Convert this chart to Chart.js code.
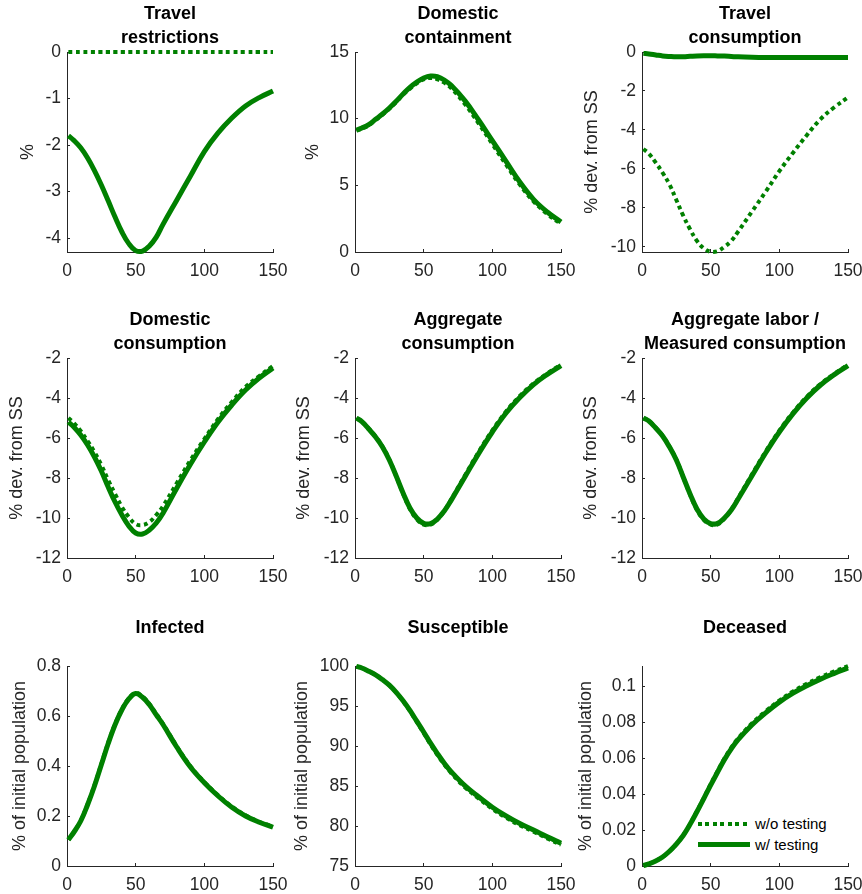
<!DOCTYPE html>
<html>
<head>
<meta charset="utf-8">
<script src="https://cdn.jsdelivr.net/npm/chart.js@4.4.1/dist/chart.umd.min.js"></script>
<style>
    html, body { margin: 0; padding: 0; background: #fff; overflow: hidden; }
    body { width: 862px; height: 894px; position: relative; }
    canvas { position: absolute; }
    #legend { position: absolute; left: 698px; top: 813px; font: 15px "Liberation Sans", Arial, sans-serif; color: #000; }
    .legend-item { display: flex; align-items: center; height: 21px; white-space: nowrap; }
    .legend-swatch { width: 52px; margin-right: 5px; }
</style>
</head>
<body>
<div id="legend"></div>
<script>
// days since start
const days = [1, 5, 10, 15, 20, 25, 30, 35, 40, 45, 50, 55, 60, 65, 70, 80, 90, 100, 110, 120, 130, 140, 150];
const xTicks = [0, 50, 100, 150];

// w/o testing (dotted) and w/ testing (solid)
const travelRestrWo = [0, 0, 0, 0, 0, 0, 0, 0, 0, 0, 0, 0, 0, 0, 0, 0, 0, 0, 0, 0, 0, 0, 0];
const travelRestrW = [-1.80, -1.90, -2.06, -2.28, -2.55, -2.86, -3.20, -3.55, -3.87, -4.12, -4.27, -4.28, -4.17, -3.98, -3.70, -3.18, -2.66, -2.14, -1.74, -1.42, -1.16, -0.98, -0.84];

const containWo = [9.1, 9.25, 9.5, 9.9, 10.3, 10.75, 11.25, 11.8, 12.25, 12.65, 12.95, 13.05, 12.95, 12.7, 12.3, 11.1, 9.65, 8.1, 6.55, 5.05, 3.8, 2.85, 2.1];
const containW = [9.15, 9.3, 9.55, 9.95, 10.35, 10.8, 11.3, 11.85, 12.35, 12.75, 13.05, 13.2, 13.15, 12.9, 12.5, 11.35, 9.9, 8.35, 6.8, 5.25, 3.95, 3.0, 2.25];

const travelConsWo = [-4.98, -5.22, -5.68, -6.2, -6.8, -7.6, -8.4, -9.1, -9.7, -10.08, -10.26, -10.23, -10.0, -9.7, -9.22, -8.2, -7.18, -6.12, -5.17, -4.27, -3.45, -2.84, -2.33];
const travelConsW = [-0.07, -0.1, -0.15, -0.2, -0.23, -0.25, -0.24, -0.22, -0.2, -0.19, -0.19, -0.2, -0.21, -0.23, -0.25, -0.27, -0.28, -0.28, -0.28, -0.28, -0.28, -0.28, -0.28];

const domConsWo = [-5.0, -5.25, -5.65, -6.15, -6.7, -7.35, -8.1, -8.8, -9.45, -9.95, -10.3, -10.35, -10.2, -9.85, -9.4, -8.25, -7.1, -6.05, -5.05, -4.2, -3.45, -2.9, -2.4];
const domConsW = [-5.2, -5.45, -5.85, -6.35, -6.95, -7.65, -8.45, -9.2, -9.85, -10.4, -10.75, -10.8, -10.6, -10.25, -9.75, -8.5, -7.3, -6.2, -5.2, -4.35, -3.6, -3.0, -2.5];

const aggConsWo = [-5.0, -5.17, -5.53, -5.93, -6.43, -7.08, -7.9, -8.78, -9.55, -10.07, -10.33, -10.33, -10.08, -9.65, -9.08, -7.88, -6.7, -5.62, -4.67, -3.9, -3.27, -2.77, -2.33];
const aggConsW = [-5.0, -5.18, -5.55, -5.95, -6.45, -7.1, -7.9, -8.75, -9.5, -10.0, -10.27, -10.28, -10.05, -9.65, -9.12, -7.95, -6.78, -5.7, -4.75, -3.98, -3.33, -2.82, -2.38];

const laborWo = [-5.0, -5.14, -5.48, -5.88, -6.43, -7.08, -7.95, -8.83, -9.6, -10.1, -10.33, -10.32, -10.03, -9.58, -9.0, -7.83, -6.68, -5.63, -4.72, -3.94, -3.3, -2.79, -2.34];
const laborW = [-5.0, -5.15, -5.5, -5.9, -6.45, -7.1, -7.95, -8.8, -9.55, -10.05, -10.28, -10.27, -10.0, -9.6, -9.05, -7.9, -6.75, -5.7, -4.78, -4.0, -3.35, -2.83, -2.38];

const infWo = [0.105, 0.136, 0.181, 0.247, 0.323, 0.408, 0.493, 0.568, 0.628, 0.671, 0.692, 0.678, 0.648, 0.608, 0.568, 0.478, 0.398, 0.336, 0.283, 0.238, 0.203, 0.177, 0.158];
const infW = [0.105, 0.135, 0.18, 0.245, 0.32, 0.405, 0.49, 0.565, 0.625, 0.668, 0.69, 0.675, 0.645, 0.605, 0.565, 0.475, 0.395, 0.333, 0.28, 0.235, 0.2, 0.175, 0.155];

const suscWo = [99.95, 99.75, 99.35, 98.9, 98.3, 97.58, 96.67, 95.6, 94.38, 93.0, 91.62, 90.2, 88.88, 87.68, 86.62, 84.85, 83.45, 82.15, 81.05, 80.1, 79.3, 78.45, 77.65];
const suscW = [99.95, 99.75, 99.35, 98.9, 98.3, 97.6, 96.7, 95.65, 94.45, 93.1, 91.75, 90.35, 89.05, 87.85, 86.8, 85.05, 83.65, 82.35, 81.25, 80.3, 79.5, 78.65, 77.85];

const deadWo = [0.0002, 0.0012, 0.0028, 0.005, 0.0082, 0.0122, 0.0171, 0.0234, 0.0305, 0.0379, 0.0455, 0.0528, 0.0598, 0.0659, 0.071, 0.0793, 0.0861, 0.0921, 0.0972, 0.1014, 0.1051, 0.1083, 0.1112];
const deadW = [0.0002, 0.0012, 0.0028, 0.005, 0.0082, 0.0122, 0.017, 0.0232, 0.0302, 0.0375, 0.045, 0.0522, 0.0592, 0.0652, 0.0703, 0.0785, 0.0852, 0.0912, 0.0962, 0.1003, 0.104, 0.1072, 0.1102];

// y tick labels
const ticksTravelRestr = [-4, -3, -2, -1, 0];
const ticksContain = [0, 5, 10, 15];
const ticksTravelCons = [-10, -8, -6, -4, -2, 0];
const ticksCons = [-12, -10, -8, -6, -4, -2];
const ticksInf = [0, 0.2, 0.4, 0.6, 0.8];
const ticksSusc = [75, 80, 85, 90, 95, 100];
const ticksDead = [0, 0.02, 0.04, 0.06, 0.08, 0.1];

const seriesLabels = ['w/o testing', 'w/ testing'];

const GREEN = '#008000';
const INK = '#262626';
const FONT = '"Liberation Sans", Arial, Helvetica, sans-serif';
const PLOT_LEFT = [67, 355, 642];
const PLOT_TOP = [52, 358, 666];
const PLOT_W = 206, PLOT_H = 200;
const AXIS_W = 67, TITLE_H = 52, XAXIS_H = 36, RIGHT_PAD = 16;

Chart.defaults.font.family = FONT;

const panels = [
    { title: ['Travel', 'restrictions'], yLabel: '%', yMin: -4.3, yMax: 0, yTicks: ticksTravelRestr, wo: travelRestrWo, w: travelRestrW, labelOff: 39 },
    { title: ['Domestic', 'containment'], yLabel: '%', yMin: 0, yMax: 15, yTicks: ticksContain, wo: containWo, w: containW, labelOff: 42 },
    { title: ['Travel', 'consumption'], yLabel: '% dev. from SS', yMin: -10.27, yMax: 0, yTicks: ticksTravelCons, wo: travelConsWo, w: travelConsW, labelOff: 50 },
    { title: ['Domestic', 'consumption'], yLabel: '% dev. from SS', yMin: -12, yMax: -2, yTicks: ticksCons, wo: domConsWo, w: domConsW, labelOff: 50 },
    { title: ['Aggregate', 'consumption'], yLabel: '% dev. from SS', yMin: -12, yMax: -2, yTicks: ticksCons, wo: aggConsWo, w: aggConsW, labelOff: 51 },
    { title: ['Aggregate labor /', 'Measured consumption'], yLabel: '% dev. from SS', yMin: -12, yMax: -2, yTicks: ticksCons, wo: laborWo, w: laborW, labelOff: 51 },
    { title: ['Infected', ''], yLabel: '% of initial population', yMin: 0, yMax: 0.8, yTicks: ticksInf, wo: infWo, w: infW, labelOff: 47 },
    { title: ['Susceptible', ''], yLabel: '% of initial population', yMin: 75, yMax: 100, yTicks: ticksSusc, wo: suscWo, w: suscW, labelOff: 53 },
    { title: ['Deceased', ''], yLabel: '% of initial population', yMin: 0, yMax: 0.1113, yTicks: ticksDead, wo: deadWo, w: deadW, labelOff: 56 }
];

function toPoints(values) {
    return days.map((d, k) => ({ x: d, y: values[k] }));
}

function axisStyle() {
    return {
        border: { color: INK, width: 1 },
        grid: { drawOnChartArea: false, drawTicks: true, tickLength: -3, color: INK, lineWidth: 1 },
    };
}

const charts = [];

panels.forEach((p, i) => {
    const row = Math.floor(i / 3), col = i % 3;
    const canvas = document.createElement('canvas');
    canvas.width = AXIS_W + PLOT_W + RIGHT_PAD;
    canvas.height = TITLE_H + PLOT_H + XAXIS_H;
    canvas.style.left = (PLOT_LEFT[col] - AXIS_W) + 'px';
    canvas.style.top = (PLOT_TOP[row] - TITLE_H) + 'px';
    document.body.appendChild(canvas);

    // y label centre sits labelOff px left of the axis
    const titleFont = { size: 18, lineHeight: 1.2 };
    const labelPad = AXIS_W - p.labelOff - 18 * 1.2 / 2;

    charts.push(new Chart(canvas, {
        type: 'line',
        data: {
            datasets: [
                { label: seriesLabels[0], data: toPoints(p.wo), borderColor: GREEN, borderWidth: 4, borderDash: [4, 3.5], order: 1 },
                { label: seriesLabels[1], data: toPoints(p.w), borderColor: GREEN, borderWidth: 5, order: 0 }
            ]
        },
        options: {
            responsive: false,
            animation: false,
            events: [],
            layout: { padding: { left: 0, top: 0, right: RIGHT_PAD, bottom: 0 } },
            datasets: { line: { clip: false } },
            elements: {
                point: { radius: 0 },
                line: { tension: 0.4, borderCapStyle: 'butt', borderJoinStyle: 'round' }
            },
            plugins: {
                legend: { display: false },
                tooltip: { enabled: false },
                title: {
                    display: true,
                    text: p.title,
                    fullSize: false,
                    color: '#000',
                    font: { size: 18, weight: 'bold', lineHeight: 24 / 18 },
                    padding: { top: 2, bottom: 2 }
                }
            },
            scales: {
                x: {
                    type: 'linear',
                    min: 0,
                    max: 150,
                    ...axisStyle(),
                    afterBuildTicks: s => { s.ticks = xTicks.map(v => ({ value: v })); },
                    afterFit: s => { s.height = XAXIS_H; s.paddingLeft = 0; s.paddingRight = 0; },
                    ticks: { autoSkip: false, maxRotation: 0, padding: 11.5, color: INK, font: { size: 17.5 }, callback: v => String(v) }
                },
                y: {
                    min: p.yMin,
                    max: p.yMax,
                    ...axisStyle(),
                    afterBuildTicks: s => { s.ticks = p.yTicks.map(v => ({ value: v })); },
                    afterFit: s => { s.width = AXIS_W; s.paddingTop = 0; s.paddingBottom = 0; },
                    ticks: { autoSkip: false, padding: 9, color: INK, font: { size: 17.5 }, callback: v => String(v) },
                    title: { display: true, text: p.yLabel, color: INK, font: titleFont, padding: { top: labelPad, bottom: 0 } }
                }
            }
        }
    }));
});

// legend for the last panel, built from its datasets
const legendEl = document.getElementById('legend');
charts[8].data.datasets.forEach(ds => {
    const item = document.createElement('div');
    item.className = 'legend-item';
    const sw = document.createElement('div');
    sw.className = 'legend-swatch';
    sw.style.height = ds.borderWidth + 'px';
    if (ds.borderDash) {
        const [on, off] = ds.borderDash;
        sw.style.background = `repeating-linear-gradient(to right, ${ds.borderColor} 0 ${on}px, transparent ${on}px ${on + off}px)`;
    } else {
        sw.style.background = ds.borderColor;
    }
    const txt = document.createElement('span');
    txt.textContent = ds.label;
    item.appendChild(sw);
    item.appendChild(txt);
    legendEl.appendChild(item);
});
</script>
</body>
</html>
